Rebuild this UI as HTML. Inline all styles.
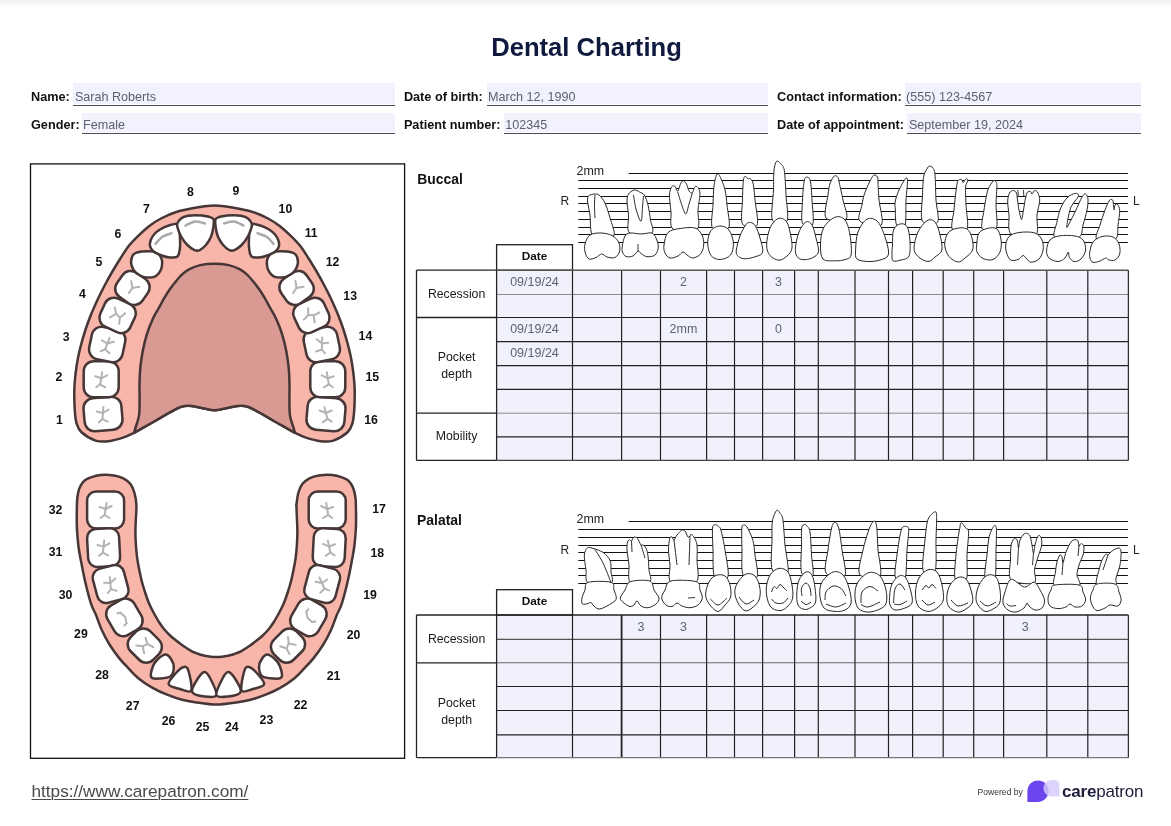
<!DOCTYPE html>
<html><head><meta charset="utf-8"><title>Dental Charting</title>
<style>
*{margin:0;padding:0;box-sizing:border-box}
html,body{width:1171px;height:826px;background:#fff;overflow:hidden}
body{position:relative;font-family:"Liberation Sans",Arial,Helvetica,sans-serif;color:#111}
.topbar{position:absolute;left:0;top:0;width:1171px;height:7px;background:linear-gradient(#efefef,#fff)}
h1{position:absolute;left:1px;top:31.7px;width:1171px;text-align:center;font-size:25.6px;line-height:30px;font-weight:bold;color:#101a3e}
.lab{position:absolute;font-weight:bold;font-size:12.7px;line-height:14px;color:#111;white-space:nowrap}
.val{position:absolute;font-size:12.6px;line-height:14px;color:#5d6070;white-space:nowrap}
.bg{position:absolute;background:#f1f2fd}
.ul{position:absolute;height:1px;background:#4a4c5c}
svg{position:absolute;left:0;top:0}
.tn{font:bold 12.3px "Liberation Sans",Arial,sans-serif;fill:#111;text-anchor:middle}
.sec{font:bold 13.9px "Liberation Sans",Arial,sans-serif;fill:#111}
.dh{font:bold 11.8px "Liberation Sans",Arial,sans-serif;fill:#111;text-anchor:middle}
.lb{font:12.3px "Liberation Sans",Arial,sans-serif;fill:#1a1a1a;text-anchor:middle}
.cv{font:12.5px "Liberation Sans",Arial,sans-serif;fill:#60636f;text-anchor:middle}
.mm{font:12.4px "Liberation Sans",Arial,sans-serif;fill:#222}
.rl{font:12px "Liberation Sans",Arial,sans-serif;fill:#222}
.tt{fill:#fff;stroke:#2a2a2a;stroke-width:1;stroke-linejoin:round}
.ti{fill:none;stroke:#2a2a2a;stroke-width:1}
.url{position:absolute;left:31.5px;top:781px;font-size:17.2px;line-height:20px;color:#4a4a4a;text-decoration:underline;text-decoration-thickness:1px;text-underline-offset:2px}
.pw{position:absolute;left:977.5px;top:787px;font-size:8.6px;line-height:10px;color:#333}
.cp{position:absolute;left:1062px;top:781px;font-size:17px;line-height:22px;color:#1b1d3a;letter-spacing:-0.2px}
.cp b{font-weight:bold}
</style></head><body>
<div class="topbar"></div>
<h1>Dental Charting</h1>
<div class="bg" style="left:73.4px;top:83.4px;width:322.0px;height:20.6px"></div><div class="ul" style="left:73.4px;top:105.0px;width:322.0px"></div><div class="lab" style="left:31.0px;top:89.8px">Name:</div><div class="val" style="left:74.9px;top:89.8px">Sarah Roberts</div>
<div class="bg" style="left:486.5px;top:83.4px;width:281.3px;height:20.6px"></div><div class="ul" style="left:486.5px;top:105.0px;width:281.3px"></div><div class="lab" style="left:403.9px;top:89.8px">Date of birth:</div><div class="val" style="left:488.0px;top:89.8px">March 12, 1990</div>
<div class="bg" style="left:904.6px;top:83.4px;width:236.1px;height:20.6px"></div><div class="ul" style="left:904.6px;top:105.0px;width:236.1px"></div><div class="lab" style="left:777.0px;top:89.8px">Contact information:</div><div class="val" style="left:906.1px;top:89.8px">(555) 123-4567</div>
<div class="bg" style="left:81.5px;top:112.5px;width:313.9px;height:19.9px"></div><div class="ul" style="left:81.5px;top:133.2px;width:313.9px"></div><div class="lab" style="left:31.0px;top:117.7px">Gender:</div><div class="val" style="left:83.0px;top:117.7px">Female</div>
<div class="bg" style="left:503.7px;top:112.5px;width:264.1px;height:19.9px"></div><div class="ul" style="left:503.7px;top:133.2px;width:264.1px"></div><div class="lab" style="left:403.9px;top:117.7px">Patient number:</div><div class="val" style="left:505.2px;top:117.7px">102345</div>
<div class="bg" style="left:907.4px;top:112.5px;width:233.3px;height:19.9px"></div><div class="ul" style="left:907.4px;top:133.2px;width:233.3px"></div><div class="lab" style="left:777.0px;top:117.7px">Date of appointment:</div><div class="val" style="left:908.9px;top:117.7px">September 19, 2024</div>

<svg width="1171" height="826" viewBox="0 0 1171 826">
<rect x="30.5" y="163.9" width="374.1" height="594.4" fill="none" stroke="#111" stroke-width="1.3"/>
<path d="M134,432.9C132.3,433.6 128.1,436 123.8,437.4C119.5,438.8 113.1,440.7 108.4,441.2C103.7,441.7 100.1,442.1 95.6,440.6C91.1,439.1 84.7,435.2 81.5,432.3C78.3,429.4 77.6,426.2 76.5,423C75.4,419.8 75.3,416.5 75,413C74.7,409.5 74.5,405.8 74.4,402C74.3,398.2 74.2,394 74.3,390C74.4,386 74.7,382 75.1,378C75.5,374 76,370 76.6,366C77.2,362 77.9,358 78.8,354C79.7,350 80.7,346 81.8,342C82.9,338 84.1,334 85.4,330C86.7,326 88.2,322 89.7,318C91.2,314 92.9,310 94.7,306C96.5,302 98.3,298 100.3,294C102.3,290 104.3,286 106.5,282C108.7,278 110.9,274 113.3,270C115.7,266 118.1,262 120.7,258C123.3,254 125.8,249.7 128.7,246C131.6,242.3 134.7,239.3 138.1,236C141.5,232.7 145.2,229.1 149,226.2C152.8,223.3 156.4,220.9 161,218.5C165.6,216.1 170.1,213.9 176.3,212C182.5,210.1 191.7,208.4 198.1,207.3C204.5,206.2 209,205.6 214.5,205.6C220,205.6 224.5,206.2 230.9,207.3C237.3,208.4 246.5,210.1 252.7,212C258.9,213.9 263.4,216.1 268,218.5C272.6,220.9 276.2,223.3 280,226.2C283.8,229.1 287.5,232.7 290.9,236C294.3,239.3 297.4,242.3 300.3,246C303.2,249.7 305.7,254 308.3,258C310.9,262 313.3,266 315.7,270C318.1,274 320.3,278 322.5,282C324.7,286 326.7,290 328.7,294C330.7,298 332.5,302 334.3,306C336.1,310 337.8,314 339.3,318C340.9,322 342.3,326 343.6,330C344.9,334 346.1,338 347.2,342C348.3,346 349.3,350 350.2,354C351.1,358 351.8,362 352.4,366C353,370 353.5,374 353.9,378C354.3,382 354.6,386 354.7,390C354.8,394 354.7,398.2 354.6,402C354.5,405.8 354.4,409.5 354,413C353.6,416.5 353.6,419.8 352.5,423C351.4,426.2 350.7,429.4 347.5,432.3C344.3,435.2 337.9,439.1 333.4,440.6C328.9,442.1 325.3,441.7 320.6,441.2C315.9,440.7 309.5,438.8 305.2,437.4C300.9,436 296.7,433.6 295,432.9L295,432.9C291.8,431.1 281.7,425.4 275.7,422C269.7,418.6 263.8,414.9 259.1,412.4C254.4,409.8 251.2,407.8 247.6,406.7C244,405.6 241.2,405.7 237.3,406C233.5,406.3 228.3,407.9 224.5,408.6C220.7,409.3 217.8,410.2 214.5,410.2C211.2,410.2 208.3,409.3 204.5,408.6C200.7,407.9 195.5,406.3 191.7,406C187.8,405.7 185,405.6 181.4,406.7C177.8,407.8 174.6,409.8 169.9,412.4C165.2,414.9 159.3,418.6 153.3,422C147.3,425.4 137.2,431.1 134,432.9Z" fill="#f8b5aa" stroke="#463636" stroke-width="2.5" stroke-linejoin="round"/>
<path d="M134,432.9C134.2,432.1 134.5,431.3 135.3,428.4C136.1,425.5 138.3,420.1 139,415.6C139.7,411.2 139.5,406.9 139.6,401.7C139.7,396.5 139.4,390.3 139.5,384.7C139.6,379.1 139.8,373.4 140.3,367.8C140.9,362.2 141.7,356.5 142.8,350.8C143.9,345.1 145.3,339.3 147,333.9C148.7,328.5 151.1,322.7 153,318.5C154.9,314.3 156.6,312 158.5,308.5C160.4,305 162.6,300.9 164.5,297.6C166.4,294.4 168.1,291.7 170,289C171.9,286.3 173.9,283.7 176,281.2C178.1,278.7 180.5,275.9 182.7,273.9C184.9,271.9 186.5,270.6 189.4,269.1C192.3,267.6 196.1,266 200.3,265.1C204.5,264.2 209.8,263.8 214.5,263.8C219.2,263.8 224.5,264.2 228.7,265.1C232.9,266 236.7,267.6 239.6,269.1C242.5,270.6 244.1,271.9 246.3,273.9C248.5,275.9 250.9,278.7 253,281.2C255.1,283.7 257.1,286.3 259,289C260.9,291.7 262.6,294.4 264.5,297.6C266.4,300.9 268.6,305 270.5,308.5C272.4,312 274.1,314.3 276,318.5C277.9,322.7 280.3,328.5 282,333.9C283.7,339.3 285.1,345.1 286.2,350.8C287.3,356.5 288.1,362.2 288.7,367.8C289.2,373.4 289.4,379.1 289.5,384.7C289.6,390.3 289.3,396.5 289.4,401.7C289.5,406.9 289.3,411.2 290,415.6C290.7,420.1 292.9,425.5 293.7,428.4C294.5,431.3 294.8,432.1 295,432.9L295,432.9C291.8,431.1 281.7,425.4 275.7,422C269.7,418.6 263.8,414.9 259.1,412.4C254.4,409.8 251.2,407.8 247.6,406.7C244,405.6 241.2,405.7 237.3,406C233.5,406.3 228.3,407.9 224.5,408.6C220.7,409.3 217.8,410.2 214.5,410.2C211.2,410.2 208.3,409.3 204.5,408.6C200.7,407.9 195.5,406.3 191.7,406C187.8,405.7 185,405.6 181.4,406.7C177.8,407.8 174.6,409.8 169.9,412.4C165.2,414.9 159.3,418.6 153.3,422C147.3,425.4 137.2,431.1 134,432.9Z" fill="#d99a94" stroke="#463636" stroke-width="2.5" stroke-linejoin="round"/>
<rect x="84" y="397.5" width="38" height="33" rx="10" transform="rotate(-5 103 414)" fill="#fff" stroke="#463636" stroke-width="2.5"/>
<g transform="translate(103 414) rotate(-5)" fill="none" stroke="#b3b3b3" stroke-width="2" stroke-linecap="round" stroke-linejoin="round"><polyline points="-6,-3 0,-1 6,-4"/><polyline points="0,-1 -1,5 -5,8"/><polyline points="-1,5 4,8"/><polyline points="0,-1 1,-7"/></g>
<rect x="83.7" y="361.3" width="35" height="36" rx="10" transform="rotate(0 101.2 379.3)" fill="#fff" stroke="#463636" stroke-width="2.5"/>
<g transform="translate(101.2 379.3) rotate(0)" fill="none" stroke="#b3b3b3" stroke-width="2" stroke-linecap="round" stroke-linejoin="round"><polyline points="-6,-3 0,-1 6,-4"/><polyline points="0,-1 -1,5 -5,8"/><polyline points="-1,5 4,8"/><polyline points="0,-1 1,-7"/></g>
<rect x="90.2" y="328" width="34" height="33" rx="10" transform="rotate(12 107.2 344.5)" fill="#fff" stroke="#463636" stroke-width="2.5"/>
<g transform="translate(107.2 344.5) rotate(12)" fill="none" stroke="#b3b3b3" stroke-width="2" stroke-linecap="round" stroke-linejoin="round"><polyline points="-6,-3 0,-1 6,-4"/><polyline points="0,-1 -1,5 -5,8"/><polyline points="-1,5 4,8"/><polyline points="0,-1 1,-7"/></g>
<rect x="101.1" y="299.9" width="33" height="31" rx="10" transform="rotate(25 117.6 315.4)" fill="#fff" stroke="#463636" stroke-width="2.5"/>
<g transform="translate(117.6 315.4) rotate(25)" fill="none" stroke="#b3b3b3" stroke-width="2" stroke-linecap="round" stroke-linejoin="round"><polyline points="-6,-6 -2,-1 -6,5"/><polyline points="-2,-1 3,1"/><polyline points="6,-5 3,1 5,7"/></g>
<rect x="116.9" y="273.2" width="31" height="29.5" rx="10" transform="rotate(35 132.4 288)" fill="#fff" stroke="#463636" stroke-width="2.5"/>
<g transform="translate(132.4 288) rotate(35)" fill="none" stroke="#b3b3b3" stroke-width="2" stroke-linecap="round" stroke-linejoin="round"><polyline points="-5,-5 0,0 5,-5"/><polyline points="0,0 0,6"/></g>
<path d="M132.7,255.3C133.6,253.8 135,253.2 136.5,252.6C138,252 139.8,251.7 141.9,251.5C144,251.3 146.7,251.1 149,251.2C151.3,251.3 153.9,251.6 155.7,252.3C157.5,253 158.7,253.9 159.7,255.2C160.7,256.5 161.5,258.4 161.9,260C162.3,261.6 162.1,263.5 162,265C161.9,266.5 161.7,267.7 161.1,269.2C160.5,270.7 159.5,272.5 158.3,273.8C157.2,275.1 155.8,276.3 154.2,276.9C152.6,277.5 150.5,277.6 148.7,277.6C146.9,277.6 145.2,277.4 143.4,276.9C141.7,276.3 139.7,275.3 138.2,274.3C136.7,273.3 135.3,272.1 134.2,270.7C133.1,269.3 132.3,267.5 131.8,266C131.3,264.5 130.9,263.3 131.1,261.5C131.2,259.7 131.8,256.8 132.7,255.3Z" fill="#fff" stroke="#463636" stroke-width="2.5" stroke-linejoin="round"/>
<path d="M178.1,224C176.3,223.1 171.8,224.6 168.8,225.5C165.8,226.4 162.5,228 160,229.5C157.5,231 155.5,232.8 154,234.5C152.5,236.2 151.5,238.1 150.8,240C150.1,241.9 149.6,244.2 150,246C150.4,247.8 151.1,249.4 153,251C154.9,252.6 158.9,254.4 161.7,255.5C164.5,256.6 167.4,257.3 170,257.5C172.6,257.7 175.9,257.9 177.5,256.5C179.1,255.1 179.4,251.6 179.8,249C180.2,246.4 180.2,243.9 180.1,240.9C180,237.9 179.8,233.8 179.5,231C179.2,228.2 179.9,224.9 178.1,224Z" fill="#fff" stroke="#463636" stroke-width="2.5" stroke-linejoin="round"/>
<path d="M177.2,224C177.7,222.1 179.5,219.7 181.3,218.3C183.1,216.9 185.6,216.3 188,215.8C190.4,215.3 193.2,215.2 195.6,215.2C198,215.2 200.3,215.3 202.5,215.6C204.7,215.9 207.1,216.2 208.9,216.8C210.7,217.4 212.8,217.5 213.5,219.3C214.2,221.1 213.7,224.6 213.3,227.5C212.9,230.4 212.2,233.9 211,236.8C209.8,239.7 207.8,242.8 205.9,245C204,247.2 201.6,249.2 199.7,250.1C197.8,250.9 196.6,250.9 194.6,250.1C192.6,249.2 189.6,247.2 187.4,245C185.2,242.8 182.8,239.4 181.3,236.8C179.8,234.2 178.9,231.7 178.2,229.6C177.5,227.5 176.7,225.9 177.2,224Z" fill="#fff" stroke="#463636" stroke-width="2.5" stroke-linejoin="round"/>
<path d="M155.5,244C156.6,242.8 159.3,238.8 162,237C164.7,235.2 169.9,233.8 171.5,233.2" fill="none" stroke="#aaa" stroke-width="2.5" stroke-linecap="round"/>
<path d="M185.5,225.6C187.1,224.9 191.8,221.9 195,221.5C198.2,221.1 203.3,223.1 205,223.4" fill="none" stroke="#aaa" stroke-width="2.5" stroke-linecap="round"/>
<rect x="307" y="397.5" width="38" height="33" rx="10" transform="rotate(5 326 414)" fill="#fff" stroke="#463636" stroke-width="2.5"/>
<g transform="translate(326 414) scale(-1 1) rotate(5)" fill="none" stroke="#b3b3b3" stroke-width="2" stroke-linecap="round" stroke-linejoin="round"><polyline points="-6,-3 0,-1 6,-4"/><polyline points="0,-1 -1,5 -5,8"/><polyline points="-1,5 4,8"/><polyline points="0,-1 1,-7"/></g>
<rect x="310.3" y="361.3" width="35" height="36" rx="10" transform="rotate(0 327.8 379.3)" fill="#fff" stroke="#463636" stroke-width="2.5"/>
<g transform="translate(327.8 379.3) scale(-1 1) rotate(0)" fill="none" stroke="#b3b3b3" stroke-width="2" stroke-linecap="round" stroke-linejoin="round"><polyline points="-6,-3 0,-1 6,-4"/><polyline points="0,-1 -1,5 -5,8"/><polyline points="-1,5 4,8"/><polyline points="0,-1 1,-7"/></g>
<rect x="304.8" y="328" width="34" height="33" rx="10" transform="rotate(-12 321.8 344.5)" fill="#fff" stroke="#463636" stroke-width="2.5"/>
<g transform="translate(321.8 344.5) scale(-1 1) rotate(-12)" fill="none" stroke="#b3b3b3" stroke-width="2" stroke-linecap="round" stroke-linejoin="round"><polyline points="-6,-3 0,-1 6,-4"/><polyline points="0,-1 -1,5 -5,8"/><polyline points="-1,5 4,8"/><polyline points="0,-1 1,-7"/></g>
<rect x="294.9" y="299.9" width="33" height="31" rx="10" transform="rotate(-25 311.4 315.4)" fill="#fff" stroke="#463636" stroke-width="2.5"/>
<g transform="translate(311.4 315.4) scale(-1 1) rotate(-25)" fill="none" stroke="#b3b3b3" stroke-width="2" stroke-linecap="round" stroke-linejoin="round"><polyline points="-6,-6 -2,-1 -6,5"/><polyline points="-2,-1 3,1"/><polyline points="6,-5 3,1 5,7"/></g>
<rect x="281.1" y="273.2" width="31" height="29.5" rx="10" transform="rotate(-35 296.6 288)" fill="#fff" stroke="#463636" stroke-width="2.5"/>
<g transform="translate(296.6 288) scale(-1 1) rotate(-35)" fill="none" stroke="#b3b3b3" stroke-width="2" stroke-linecap="round" stroke-linejoin="round"><polyline points="-5,-5 0,0 5,-5"/><polyline points="0,0 0,6"/></g>
<path d="M296.3,255.3C295.4,253.8 294,253.2 292.5,252.6C291,252 289.2,251.7 287.1,251.5C285,251.3 282.3,251.1 280,251.2C277.7,251.3 275.1,251.6 273.3,252.3C271.5,253 270.3,253.9 269.3,255.2C268.3,256.5 267.5,258.4 267.1,260C266.7,261.6 266.9,263.5 267,265C267.1,266.5 267.3,267.7 267.9,269.2C268.5,270.7 269.5,272.5 270.7,273.8C271.9,275.1 273.2,276.3 274.8,276.9C276.4,277.5 278.5,277.6 280.3,277.6C282.1,277.6 283.9,277.4 285.6,276.9C287.4,276.3 289.3,275.3 290.8,274.3C292.3,273.3 293.7,272.1 294.8,270.7C295.9,269.3 296.7,267.5 297.2,266C297.7,264.5 298,263.3 297.9,261.5C297.8,259.7 297.2,256.8 296.3,255.3Z" fill="#fff" stroke="#463636" stroke-width="2.5" stroke-linejoin="round"/>
<path d="M250.9,224C252.7,223.1 257.2,224.6 260.2,225.5C263.2,226.4 266.5,228 269,229.5C271.5,231 273.5,232.8 275,234.5C276.5,236.2 277.5,238.1 278.2,240C278.9,241.9 279.4,244.2 279,246C278.6,247.8 277.9,249.4 276,251C274.1,252.6 270.1,254.4 267.3,255.5C264.5,256.6 261.6,257.3 259,257.5C256.4,257.7 253.1,257.9 251.5,256.5C249.9,255.1 249.6,251.6 249.2,249C248.8,246.4 248.8,243.9 248.9,240.9C249,237.9 249.2,233.8 249.5,231C249.8,228.2 249.1,224.9 250.9,224Z" fill="#fff" stroke="#463636" stroke-width="2.5" stroke-linejoin="round"/>
<path d="M251.8,224C251.3,222.1 249.5,219.7 247.7,218.3C245.9,216.9 243.4,216.3 241,215.8C238.6,215.3 235.8,215.2 233.4,215.2C231,215.2 228.7,215.3 226.5,215.6C224.3,215.9 221.9,216.2 220.1,216.8C218.3,217.4 216.2,217.5 215.5,219.3C214.8,221.1 215.3,224.6 215.7,227.5C216.1,230.4 216.8,233.9 218,236.8C219.2,239.7 221.2,242.8 223.1,245C225,247.2 227.4,249.2 229.3,250.1C231.2,250.9 232.4,250.9 234.4,250.1C236.4,249.2 239.4,247.2 241.6,245C243.8,242.8 246.2,239.4 247.7,236.8C249.2,234.2 250.1,231.7 250.8,229.6C251.5,227.5 252.3,225.9 251.8,224Z" fill="#fff" stroke="#463636" stroke-width="2.5" stroke-linejoin="round"/>
<path d="M273.5,244C272.4,242.8 269.7,238.8 267,237C264.3,235.2 259.1,233.8 257.5,233.2" fill="none" stroke="#aaa" stroke-width="2.5" stroke-linecap="round"/>
<path d="M243.5,225.6C241.9,224.9 237.2,221.9 234,221.5C230.8,221.1 225.7,223.1 224,223.4" fill="none" stroke="#aaa" stroke-width="2.5" stroke-linecap="round"/>
<path d="M216.4,704.6C209.3,704.6 200.7,703 195,702.2C189.3,701.4 186.8,701 182.2,699.8C177.6,698.6 172.5,696.8 167.7,694.9C162.8,693 157.9,690.9 153.1,688.1C148.2,685.4 142.6,681.6 138.6,678.4C134.6,675.2 132.1,672.2 128.9,668.8C125.7,665.4 122.4,662.1 119.2,658.1C116,654.1 112.4,649.2 109.5,644.5C106.6,639.8 104,634.9 101.8,630C99.5,625.1 97.8,619.4 96,615C94.2,610.6 92.8,609.1 91,603.6C89.2,598.1 86.9,589.1 85.2,581.8C83.5,574.5 82,566.1 80.8,560C79.6,553.9 78.9,550.3 78.3,545C77.7,539.7 77.2,533.5 76.9,528C76.7,522.5 76.7,517 76.8,512C76.9,507.1 76.8,502.5 77.3,498.3C77.8,494.1 78.5,490.1 80,487C81.5,483.9 82.6,481.5 86,479.5C89.4,477.5 95.9,475.7 100.6,475C105.3,474.3 110.2,474.9 114,475.5C117.8,476.1 120.5,476.9 123.3,478.3C126,479.7 128.6,481.6 130.5,484C132.4,486.4 133.5,489.5 134.5,493C135.5,496.5 136.2,500.8 136.4,505C136.6,509.2 136.1,513.9 135.9,518.3C135.7,522.7 135.4,527.2 135.4,531.6C135.4,536 135.6,540.5 135.9,544.9C136.2,549.3 136.6,554 137.2,558.2C137.8,562.4 138.5,566.1 139.3,570C140.1,573.9 140.9,578 141.9,581.8C142.9,585.6 144.1,589.4 145.3,593C146.5,596.6 147.7,600.3 149.1,603.6C150.5,606.9 152.1,609.9 153.8,613C155.5,616.1 157.5,619.7 159.3,622.5C161.1,625.3 162.9,627.8 164.8,630C166.7,632.2 168.5,634.1 170.6,636C172.7,637.9 175.1,639.8 177.4,641.6C179.7,643.4 182.1,645.2 184.5,646.8C186.9,648.4 189.6,650.1 191.9,651.3C194.2,652.5 196.3,653.2 198.5,654C200.7,654.8 203,655.3 205,655.8C207,656.2 208.8,656.5 210.7,656.7C212.6,656.9 214.5,657 216.4,657C218.3,657 220.2,656.9 222.1,656.7C224,656.5 225.8,656.2 227.8,655.8C229.8,655.3 232.1,654.8 234.3,654C236.5,653.2 238.6,652.5 240.9,651.3C243.2,650.1 245.9,648.4 248.3,646.8C250.7,645.2 253.1,643.4 255.4,641.6C257.7,639.8 260.1,637.9 262.2,636C264.3,634.1 266.1,632.2 268,630C269.9,627.8 271.7,625.3 273.5,622.5C275.3,619.7 277.3,616.1 279,613C280.7,609.9 282.3,606.9 283.7,603.6C285.1,600.3 286.3,596.6 287.5,593C288.7,589.4 289.9,585.6 290.9,581.8C291.9,578 292.7,573.9 293.5,570C294.3,566.1 295,562.4 295.6,558.2C296.2,554 296.6,549.3 296.9,544.9C297.2,540.5 297.4,536 297.4,531.6C297.4,527.2 297.1,522.7 296.9,518.3C296.7,513.9 296.5,507.2 296.4,505C296.3,502.8 296.1,507 296.4,505C296.7,503 297.3,496.5 298.3,493C299.3,489.5 300.4,486.4 302.3,484C304.2,481.6 306.8,479.7 309.5,478.3C312.2,476.9 315,476.1 318.8,475.5C322.6,474.9 327.5,474.3 332.2,475C336.9,475.7 343.4,477.5 346.8,479.5C350.2,481.5 351.4,483.9 352.8,487C354.2,490.1 355,494.1 355.5,498.3C356,502.5 355.9,507.1 356,512C356.1,517 356.1,522.5 355.9,528C355.6,533.5 355.1,539.7 354.5,545C353.9,550.3 353.1,553.9 352,560C350.9,566.1 349.3,574.5 347.6,581.8C345.9,589.1 343.6,598.1 341.8,603.6C340,609.1 338.6,610.6 336.8,615C335,619.4 333.2,625.1 331,630C328.8,634.9 326.2,639.8 323.3,644.5C320.4,649.2 316.8,654.1 313.6,658.1C310.4,662.1 307.1,665.4 303.9,668.8C300.7,672.2 298.2,675.2 294.2,678.4C290.2,681.6 284.6,685.4 279.7,688.1C274.9,690.9 270,693 265.1,694.9C260.2,696.8 255.2,698.6 250.6,699.8C246.1,701 243.5,701.4 237.8,702.2C232.1,703 223.5,704.6 216.4,704.6Z" fill="#f8b5aa" stroke="#463636" stroke-width="2.5" stroke-linejoin="round"/>
<rect x="87.1" y="491.5" width="37" height="37" rx="9" transform="rotate(0 105.6 510)" fill="#fff" stroke="#463636" stroke-width="2.5"/>
<g transform="translate(105.6 510) rotate(0)" fill="none" stroke="#b3b3b3" stroke-width="2" stroke-linecap="round" stroke-linejoin="round"><polyline points="-6,-3 0,-1 6,-4"/><polyline points="0,-1 -1,5 -5,8"/><polyline points="-1,5 4,8"/><polyline points="0,-1 1,-7"/></g>
<rect x="87.6" y="528.6" width="32" height="38" rx="9" transform="rotate(-3 103.6 547.6)" fill="#fff" stroke="#463636" stroke-width="2.5"/>
<g transform="translate(103.6 547.6) rotate(-3)" fill="none" stroke="#b3b3b3" stroke-width="2" stroke-linecap="round" stroke-linejoin="round"><polyline points="-6,-3 0,-1 6,-4"/><polyline points="0,-1 -1,5 -5,8"/><polyline points="-1,5 4,8"/><polyline points="0,-1 1,-7"/></g>
<rect x="94.6" y="566.5" width="32" height="35" rx="9" transform="rotate(-15 110.6 584)" fill="#fff" stroke="#463636" stroke-width="2.5"/>
<g transform="translate(110.6 584) rotate(-15)" fill="none" stroke="#b3b3b3" stroke-width="2" stroke-linecap="round" stroke-linejoin="round"><polyline points="-6,-3 0,-1 6,-4"/><polyline points="0,-1 -1,5 -5,8"/><polyline points="-1,5 4,8"/><polyline points="0,-1 1,-7"/></g>
<rect x="108.9" y="600.4" width="31" height="34" rx="10" transform="rotate(-30 124.4 617.4)" fill="#fff" stroke="#463636" stroke-width="2.5"/>
<g transform="translate(124.4 617.4) rotate(-30)" fill="none" stroke="#b3b3b3" stroke-width="2" stroke-linecap="round" stroke-linejoin="round"><polyline points="-1,-6 1,0 -1,6"/><polyline points="-4,-7 -1,-6"/><polyline points="-4,7 -1,6"/></g>
<rect x="130.8" y="629.6" width="28" height="32" rx="10" transform="rotate(-45 144.8 645.6)" fill="#fff" stroke="#463636" stroke-width="2.5"/>
<g transform="translate(144.8 645.6) rotate(-45)" fill="none" stroke="#b3b3b3" stroke-width="2" stroke-linecap="round" stroke-linejoin="round"><polyline points="-6,-6 -2,-1 -6,5"/><polyline points="-2,-1 3,1"/><polyline points="6,-5 3,1 5,7"/></g>
<path d="M151.2,677.1C150,675 151.9,669 153,666C154.1,663 155.9,660.9 158,659C160.1,657.1 163.4,654.6 165.6,654.6C167.8,654.6 169.6,656.9 171,659C172.4,661.1 173.9,664.1 173.8,667C173.8,669.9 173,674.2 170.7,676.1C168.4,678 163.2,678.3 160,678.5C156.8,678.7 152.4,679.2 151.2,677.1Z" fill="#fff" stroke="#463636" stroke-width="2.5" stroke-linejoin="round"/>
<path d="M168.7,684.3C168,681.6 173.4,675.9 176,673C178.6,670.1 181.9,667.2 184,666.9C186.1,666.6 187.3,667.1 188.5,671C189.7,674.9 192.6,687.5 191.2,690.5C189.8,693.5 183.8,690 180,689C176.2,688 169.4,687 168.7,684.3Z" fill="#fff" stroke="#463636" stroke-width="2.5" stroke-linejoin="round"/>
<path d="M192.2,692C191,689.1 195.4,682.3 197.5,679C199.6,675.7 202.4,672.2 204.5,672C206.6,671.8 208,674.2 210,678C212,681.8 217.3,691.9 216.4,695C215.5,698.1 208.5,697 204.5,696.5C200.5,696 193.4,694.9 192.2,692Z" fill="#fff" stroke="#463636" stroke-width="2.5" stroke-linejoin="round"/>
<rect x="308.7" y="491.5" width="37" height="37" rx="9" transform="rotate(0 327.2 510)" fill="#fff" stroke="#463636" stroke-width="2.5"/>
<g transform="translate(327.2 510) scale(-1 1) rotate(0)" fill="none" stroke="#b3b3b3" stroke-width="2" stroke-linecap="round" stroke-linejoin="round"><polyline points="-6,-3 0,-1 6,-4"/><polyline points="0,-1 -1,5 -5,8"/><polyline points="-1,5 4,8"/><polyline points="0,-1 1,-7"/></g>
<rect x="313.2" y="528.6" width="32" height="38" rx="9" transform="rotate(3 329.2 547.6)" fill="#fff" stroke="#463636" stroke-width="2.5"/>
<g transform="translate(329.2 547.6) scale(-1 1) rotate(3)" fill="none" stroke="#b3b3b3" stroke-width="2" stroke-linecap="round" stroke-linejoin="round"><polyline points="-6,-3 0,-1 6,-4"/><polyline points="0,-1 -1,5 -5,8"/><polyline points="-1,5 4,8"/><polyline points="0,-1 1,-7"/></g>
<rect x="306.2" y="566.5" width="32" height="35" rx="9" transform="rotate(15 322.2 584)" fill="#fff" stroke="#463636" stroke-width="2.5"/>
<g transform="translate(322.2 584) scale(-1 1) rotate(15)" fill="none" stroke="#b3b3b3" stroke-width="2" stroke-linecap="round" stroke-linejoin="round"><polyline points="-6,-3 0,-1 6,-4"/><polyline points="0,-1 -1,5 -5,8"/><polyline points="-1,5 4,8"/><polyline points="0,-1 1,-7"/></g>
<rect x="292.9" y="600.4" width="31" height="34" rx="10" transform="rotate(30 308.4 617.4)" fill="#fff" stroke="#463636" stroke-width="2.5"/>
<g transform="translate(308.4 617.4) scale(-1 1) rotate(30)" fill="none" stroke="#b3b3b3" stroke-width="2" stroke-linecap="round" stroke-linejoin="round"><polyline points="-1,-6 1,0 -1,6"/><polyline points="-4,-7 -1,-6"/><polyline points="-4,7 -1,6"/></g>
<rect x="274" y="629.6" width="28" height="32" rx="10" transform="rotate(45 288 645.6)" fill="#fff" stroke="#463636" stroke-width="2.5"/>
<g transform="translate(288 645.6) scale(-1 1) rotate(45)" fill="none" stroke="#b3b3b3" stroke-width="2" stroke-linecap="round" stroke-linejoin="round"><polyline points="-6,-6 -2,-1 -6,5"/><polyline points="-2,-1 3,1"/><polyline points="6,-5 3,1 5,7"/></g>
<path d="M281.6,677.1C282.8,675 280.9,669 279.8,666C278.7,663 276.9,660.9 274.8,659C272.7,657.1 269.4,654.6 267.2,654.6C265,654.6 263.2,656.9 261.8,659C260.4,661.1 258.9,664.1 259,667C259.1,669.9 259.8,674.2 262.1,676.1C264.4,678 269.6,678.3 272.8,678.5C276.1,678.7 280.4,679.2 281.6,677.1Z" fill="#fff" stroke="#463636" stroke-width="2.5" stroke-linejoin="round"/>
<path d="M264.1,684.3C264.8,681.6 259.4,675.9 256.8,673C254.2,670.1 250.9,667.2 248.8,666.9C246.7,666.6 245.5,667.1 244.3,671C243.1,674.9 240.2,687.5 241.6,690.5C243,693.5 249.1,690 252.8,689C256.6,688 263.4,687 264.1,684.3Z" fill="#fff" stroke="#463636" stroke-width="2.5" stroke-linejoin="round"/>
<path d="M240.6,692C241.8,689.1 237.4,682.3 235.3,679C233.2,675.7 230.4,672.2 228.3,672C226.2,671.8 224.8,674.2 222.8,678C220.8,681.8 215.5,691.9 216.4,695C217.3,698.1 224.3,697 228.3,696.5C232.3,696 239.4,694.9 240.6,692Z" fill="#fff" stroke="#463636" stroke-width="2.5" stroke-linejoin="round"/>
<text x="59.4" y="424" class="tn">1</text>
<text x="59" y="381" class="tn">2</text>
<text x="66.2" y="340.6" class="tn">3</text>
<text x="82.3" y="298.4" class="tn">4</text>
<text x="99" y="266.2" class="tn">5</text>
<text x="117.8" y="238" class="tn">6</text>
<text x="146.3" y="213.4" class="tn">7</text>
<text x="190.4" y="196.2" class="tn">8</text>
<text x="236" y="195.4" class="tn">9</text>
<text x="285.4" y="213.4" class="tn">10</text>
<text x="311.2" y="237.1" class="tn">11</text>
<text x="332.6" y="266.1" class="tn">12</text>
<text x="350.2" y="299.9" class="tn">13</text>
<text x="365.4" y="340.3" class="tn">14</text>
<text x="372.3" y="381.2" class="tn">15</text>
<text x="371.1" y="423.7" class="tn">16</text>
<text x="379" y="513" class="tn">17</text>
<text x="377.3" y="556.6" class="tn">18</text>
<text x="370" y="599.4" class="tn">19</text>
<text x="353.6" y="638.9" class="tn">20</text>
<text x="333.6" y="679.9" class="tn">21</text>
<text x="300.5" y="708.9" class="tn">22</text>
<text x="266.4" y="724.4" class="tn">23</text>
<text x="231.8" y="731.1" class="tn">24</text>
<text x="202.6" y="731" class="tn">25</text>
<text x="168.6" y="725.2" class="tn">26</text>
<text x="132.7" y="709.7" class="tn">27</text>
<text x="102.1" y="678.9" class="tn">28</text>
<text x="80.9" y="638" class="tn">29</text>
<text x="65.5" y="599.3" class="tn">30</text>
<text x="55.5" y="555.7" class="tn">31</text>
<text x="55.5" y="513.9" class="tn">32</text>
<text x="417.3" y="184.3" class="sec">Buccal</text>
<line x1="628.7" y1="173.5" x2="1127.9" y2="173.5" stroke="#111" stroke-width="1.15"/>
<line x1="578.3" y1="180.5" x2="1127.9" y2="180.5" stroke="#111" stroke-width="1.15"/>
<line x1="578.3" y1="188.5" x2="1127.9" y2="188.5" stroke="#111" stroke-width="1.15"/>
<line x1="578.3" y1="196.5" x2="1127.9" y2="196.5" stroke="#111" stroke-width="1.15"/>
<line x1="578.3" y1="203.5" x2="1127.9" y2="203.5" stroke="#111" stroke-width="1.15"/>
<line x1="578.3" y1="211.5" x2="1127.9" y2="211.5" stroke="#111" stroke-width="1.15"/>
<line x1="578.3" y1="219.5" x2="1127.9" y2="219.5" stroke="#111" stroke-width="1.15"/>
<line x1="578.3" y1="227.5" x2="1127.9" y2="227.5" stroke="#111" stroke-width="1.15"/>
<line x1="578.3" y1="234.5" x2="1127.9" y2="234.5" stroke="#111" stroke-width="1.15"/>
<line x1="578.3" y1="242.5" x2="1127.9" y2="242.5" stroke="#111" stroke-width="1.15"/>
<text x="576.5" y="174.6" class="mm">2mm</text>
<text x="560.5" y="205.3" class="rl">R</text>
<text x="1133" y="205.3" class="rl">L</text>
<path d="M593,236C589.5,232.8 590.8,220.2 590,215C589.2,209.8 587.7,203.8 587.5,201C587.3,198.2 587.8,197 588.5,196C589.2,195 591,194.8 592,194.5C593,194.2 594,193.9 595,194C596,194.1 597.5,193.7 599,195C600.5,196.3 603.4,199.6 605,203C606.6,206.4 608.7,213.1 610,218C611.3,222.9 616.1,233.3 613.6,236C611.1,238.7 596.5,239.2 593,236Z" class="tt"/>
<path d="M585,244C585.8,241 587.3,236.8 590,235C592.7,233.2 597.3,232.9 601,233C604.7,233.1 609.1,234 612,235.5C614.9,237 617.2,239.4 618.5,242C619.8,244.6 620.3,248.4 619.7,251C619.1,253.6 617.1,256.5 615,257.5C612.9,258.5 609.2,257.6 607,257C604.8,256.4 603.5,253.9 601.7,254C599.9,254.1 598.1,256.7 596,257.5C593.9,258.3 590.8,259.8 589,259C587.2,258.2 586,255.5 585.3,253C584.6,250.5 584.2,247 585,244Z" class="tt"/>
<path d="M595,195C594.9,196.7 594.5,201.2 594.5,205C594.5,208.8 594.9,215.8 595,218" class="ti"/>
<path d="M629.7,233C626.2,230.3 628.9,219.8 628.5,215C628.1,210.2 627,204.2 627,201C627,197.8 627.4,195.7 628.5,194C629.6,192.3 632.6,190.3 634.3,190C635.9,189.7 638,191.2 639.5,192C641,192.8 643,193.1 644.3,195C645.6,196.9 647.1,201.2 648,205C648.9,208.8 649.9,215.8 650.5,220C651.1,224.2 654.8,231.1 651.7,233C648.6,234.9 633.2,235.7 629.7,233Z" class="tt"/>
<path d="M622.3,246C622.7,243.3 623.7,238.2 625,236C626.3,233.8 627.3,233.3 630,233C632.7,232.7 637.4,234 641,234C644.6,234 649.2,232.3 651.7,233C654.2,233.7 654.9,235.7 656,238C657.1,240.3 658.5,244.2 658.3,247C658.1,249.8 656.9,253.4 655,255C653.1,256.6 649.3,256.9 647,256.7C644.7,256.4 642.5,254.4 641,253.5C639.5,252.6 639.3,250.6 638,251C636.7,251.4 635,255.1 633,256C631,256.9 627.8,257.2 626,256.5C624.2,255.8 623.1,253.8 622.5,252C621.9,250.2 621.9,248.7 622.3,246Z" class="tt"/>
<path d="M633.5,195C633.9,197.3 634.8,204.6 636,209C637.2,213.4 639.9,221.6 641,221.3C642.1,221 642.1,211.2 642.5,207C642.9,202.8 643.3,197.8 643.5,196" class="ti"/>
<path d="M638,251C638,249.8 638,245.2 638,244" class="ti"/>
<path d="M673,229C669.1,226.4 671.5,217.1 671,212C670.5,206.9 669.4,198.8 669.5,195C669.6,191.2 670.9,188 671.7,186.7C672.5,185.4 674.1,185.8 675,186.5C675.9,187.2 676.9,191.7 677.7,191.3C678.5,190.9 679.7,185.6 680.5,184C681.3,182.4 682.1,180.7 683,180.7C683.9,180.7 685.6,182.5 686.5,184C687.4,185.5 688.1,189.7 689,191C689.9,192.3 691.5,193.2 692.3,192.7C693.1,192.2 693.8,188.4 694.5,187.5C695.2,186.6 696.2,185.9 697,186.7C697.8,187.5 699.9,189.5 700,193C700.1,196.5 698.5,204.6 698,210C697.5,215.4 700.8,226.2 697,229C693.2,231.8 676.9,231.6 673,229Z" class="tt"/>
<path d="M664,245C664.5,241.6 665.3,235.2 668,232.5C670.7,229.8 675.5,229.2 680,228.5C684.5,227.8 691.3,226.9 695,228C698.7,229.1 700.5,232.2 702,235C703.5,237.8 704,241.8 703.7,245C703.5,248.2 702.3,251.8 700.5,254C698.7,256.2 695.2,257.8 693,258C690.8,258.2 688.7,256 687,255C685.3,254 684.5,251.8 683,252C681.5,252.2 680.2,255 678,256C675.8,257 672.2,258.5 670,258C667.8,257.5 666,255.2 665,253C664,250.8 663.5,248.4 664,245Z" class="tt"/>
<path d="M677.7,192C678.3,194 680.2,200.3 681.5,204C682.8,207.7 684.5,214 685.7,214C687,214 687.9,207.5 689,204C690.1,200.5 691.8,194.8 692.3,193" class="ti"/>
<path d="M712.5,228C710.2,224.6 712.8,211.3 713,205C713.2,198.7 713.4,190.6 714,186C714.6,181.4 715.8,175.9 716.7,174.5C717.6,173.1 718.8,174.2 720,176.5C721.2,178.8 724,185.5 725,189.8C726,194.1 726.5,199.3 727,205C727.5,210.7 730.8,224.6 728.6,228C726.4,231.4 714.8,231.4 712.5,228Z" class="tt"/>
<path d="M707.7,243C707.7,238.8 709,233.3 711,230.5C713,227.7 717,226.1 720,226C723,225.9 726.8,227.2 729,230C731.2,232.8 733.1,238.8 733.4,243C733.6,247.2 732.7,252.2 730.5,255C728.3,257.8 723.2,259.4 720,259.5C716.8,259.6 713,258.2 711,255.5C709,252.8 707.7,247.2 707.7,243Z" class="tt"/>
<path d="M742.5,224C740.3,220.2 742.4,205.8 742.5,200C742.6,194.2 742.8,188.4 743,185C743.2,181.6 743.5,178.8 744,177.5C744.5,176.2 745.4,176.4 746,176.6C746.6,176.8 747.4,178.7 748,179C748.6,179.3 749.2,177.9 750,178.5C750.8,179.1 752.2,179.8 753,183C753.8,186.2 754.4,193.7 755,200C755.6,206.3 758.9,221.7 757,225.3C755.1,228.9 744.7,227.8 742.5,224Z" class="tt"/>
<path d="M736.2,251C736.5,247.6 738.4,240.4 740,236C741.6,231.6 744.2,226.8 746,224.5C747.8,222.2 748.9,222.2 750.5,222.5C752.1,222.8 753.9,223.4 755.5,226C757.1,228.6 758.8,233.7 760,238C761.2,242.3 763.4,248.9 762.7,252C762,255.1 759,255.4 756,256.5C753,257.6 747.9,258.8 745,258.8C742.1,258.8 740,257.8 738.5,256.5C737,255.2 736,254.4 736.2,251Z" class="tt"/>
<path d="M772.4,220C770.4,215.3 773.3,197.5 773.5,190C773.7,182.5 773.5,174.3 774,170C774.5,165.7 775.6,162.3 776.6,161.3C777.6,160.3 779.3,162.2 780.5,163.5C781.7,164.8 783.5,165.6 784.3,170.3C785.1,175 785.6,187.4 786,195C786.4,202.6 789,217.2 787,221C785,224.8 774.4,224.7 772.4,220Z" class="tt"/>
<path d="M766.6,245C766.6,240.4 768.1,232.4 770,228C771.9,223.6 775.3,219.8 778,218.6C780.7,217.4 784,218.8 786,221C788,223.2 789,227.5 790,232C791,236.5 792.5,244 792,248C791.5,252 789.2,254 787,256C784.8,258 781.8,260.3 779,260.2C776.2,260.1 772.1,258 770,255.5C767.9,253 766.6,249.6 766.6,245Z" class="tt"/>
<path d="M802.4,223C800.9,219.4 802.3,206.2 802.5,200C802.7,193.8 803.5,185.4 804,182C804.5,178.6 805,177.9 805.8,177.3C806.5,176.7 808.3,177.1 809,178C809.7,178.9 810.2,179.7 810.7,183C811.2,186.3 811.7,193.8 812,200C812.3,206.2 814.2,220.6 812.8,224C811.4,227.4 803.9,226.6 802.4,223Z" class="tt"/>
<path d="M795.4,248C795.7,243.9 797.2,236.3 799,232C800.8,227.7 803.8,223.2 806,222C808.2,220.8 810.3,222.3 812,225C813.7,227.7 814.9,233.5 816,238C817.1,242.5 819.1,248.7 818.4,252C817.7,255.3 814.6,256.7 812,258C809.4,259.3 805.5,259.9 803,259.7C800.5,259.4 798.3,258.4 797,256.5C795.7,254.6 795.1,252.1 795.4,248Z" class="tt"/>
<path d="M826,218C823.3,214.4 827.4,200.2 828,195C828.6,189.8 829.2,185.9 830.2,183C831.2,180.1 833.2,176.7 834.4,175.9C835.6,175.1 837.3,176.4 838,177.5C838.7,178.6 838.5,179.6 839.3,183C840,186.4 842,194.6 843,200C844,205.4 848.8,216.3 846.2,219C843.7,221.7 828.7,221.6 826,218Z" class="tt"/>
<path d="M820.5,245C820.6,239.8 821.1,232.6 823.5,228C825.9,223.4 831.4,218.5 835,217.2C838.6,215.9 842.5,217 845,220C847.5,223 849,229.2 850,235C851,240.8 851.9,250.9 851.1,255C850.3,259.1 847.7,258.5 845,259.5C842.3,260.5 838.7,260.9 835,260.8C831.3,260.7 825.4,261.6 823,259C820.6,256.4 820.4,250.2 820.5,245Z" class="tt"/>
<path d="M859.7,221C856.8,218 861.4,208.8 862,205C862.6,201.2 863,198.7 864,195.4C865,192.1 867.5,186 869,183C870.5,180 872.4,176.1 873.7,175.2C875,174.3 876.9,175.8 877.5,177C878.1,178.2 877.8,179.6 878,183C878.2,186.4 878.5,193.7 879,200C879.5,206.3 884.2,221.8 881.3,225C878.4,228.2 862.6,224 859.7,221Z" class="tt"/>
<path d="M855.6,250C855.8,245.5 856.1,237.1 858,232C859.9,226.9 863.7,220.9 867,219.2C870.3,217.5 874.8,218.5 878,222C881.2,225.5 884.3,234.5 886,240C887.7,245.5 889.3,251.7 888.3,255C887.3,258.3 883.4,258.9 880,260C876.6,261.1 871.8,261.7 868,261.5C864.2,261.3 859.1,260.9 857,259C854.9,257.1 855.4,254.5 855.6,250Z" class="tt"/>
<path d="M896.7,225C895.2,222.6 895.5,213.6 895.3,210C895.1,206.4 894.7,204 895.3,201C895.9,198 897.4,193.4 899,190C900.6,186.6 904.4,179.7 905.7,178.4C907,177.1 907.5,178.3 907.5,181.5C907.5,184.7 906.4,193.3 906,200C905.6,206.7 906.4,222.2 905,226C903.6,229.8 898.2,227.4 896.7,225Z" class="tt"/>
<path d="M892.5,245C892.8,241.2 892.2,233.5 893.5,230C894.8,226.5 897.8,224.6 900,224C902.2,223.4 905.4,223.8 907,226.5C908.6,229.2 909.6,235.1 909.9,240C910.2,244.9 910.5,252.7 909,256C907.5,259.3 903.7,259.2 901,260C898.3,260.8 894.5,262 893,260.8C891.5,259.6 892.1,255.6 892,253C891.9,250.4 892.2,248.8 892.5,245Z" class="tt"/>
<path d="M922.4,221C920.1,216.9 922.3,201.8 922.5,195C922.7,188.2 923,180.1 923.8,176C924.5,171.9 926.7,169.5 927.5,168C928.3,166.5 928.6,166.1 929.4,166.1C930.2,166.1 932.2,166.7 933,168C933.8,169.3 934.5,169.7 935,174.5C935.5,179.3 935.6,192.9 936,200C936.4,207.1 939.7,218.8 937.7,222C935.7,225.2 924.7,225.1 922.4,221Z" class="tt"/>
<path d="M914,248C914,243.9 915.8,236.6 918,232C920.2,227.4 924.2,222.4 927,220.7C929.8,219 932.8,219.6 935,222C937.2,224.4 938.9,230.3 940,235C941.1,239.7 942.7,246.3 941.9,250C941.1,253.7 937.3,255.1 935,257C932.7,258.9 930.8,261.6 928,261.5C925.2,261.4 920.3,258.8 918,256.5C915.7,254.2 914,252.1 914,248Z" class="tt"/>
<path d="M952.4,229C950.4,226.2 953.3,216.9 954,210C954.7,203.1 956.1,187.6 957.2,183C958.3,178.4 960.5,179.5 961.4,179.4C962.3,179.3 962.5,182.4 963,182.5C963.5,182.6 964.4,180.6 965,180C965.6,179.4 966.6,178.5 967,178.7C967.4,178.8 968,179.8 967.8,181C967.6,182.2 965.9,183.4 965.6,187C965.3,190.6 965.8,198.7 966,205C966.2,211.3 969,225.4 967,229C965,232.6 954.4,231.8 952.4,229Z" class="tt"/>
<path d="M944.7,245C944.5,241.1 946,235.8 948,233C950,230.2 953.8,229 957,228.3C960.2,227.6 964.5,227.4 967,229C969.5,230.6 971.1,234.5 972,238C972.9,241.5 973.8,246.7 972.6,250C971.4,253.3 967.4,256 965,258C962.6,260 960.7,262.2 958,262C955.3,261.8 951.2,259.3 949,256.5C946.8,253.7 944.9,248.9 944.7,245Z" class="tt"/>
<path d="M982.3,229C980.5,226.2 983.2,215.9 984,210C984.8,204.1 986.5,194.2 987.9,189.8C989.3,185.4 992.3,182 993.5,180.8C994.7,179.6 995.5,181.3 996,182C996.5,182.7 996.9,182.2 996.9,185.6C996.9,189 996.1,198.5 996,205C995.9,211.5 998.3,225.4 996.2,229C994.1,232.6 984.1,231.8 982.3,229Z" class="tt"/>
<path d="M976.7,245C977,241.8 977.1,235.8 979,233C980.9,230.2 985,229 988,228.3C991,227.6 994.8,227.1 997,229C999.2,230.9 1000.6,236.2 1001.1,240C1001.6,243.8 1001.4,248.8 1000,252C998.6,255.2 995.8,258.4 993,259.5C990.2,260.6 985.7,259.8 983,258.5C980.3,257.2 978,254.2 977,252C976,249.8 976.4,248.2 976.7,245Z" class="tt"/>
<path d="M1011.1,234C1007.1,230.8 1009.5,219.9 1009,215C1008.5,210.1 1007.6,204.3 1007.7,201C1007.8,197.7 1008.7,194.6 1009.5,193C1010.3,191.4 1012.2,190.5 1013.2,190.5C1014.2,190.5 1015.9,191.6 1016.5,193C1017.1,194.4 1017.1,197.4 1017.5,200C1017.9,202.6 1018.4,207.1 1019,210C1019.6,212.9 1020.8,219.5 1021.5,219.5C1022.2,219.5 1022.9,213.2 1023.5,210C1024.1,206.8 1024.9,200.7 1025.5,198C1026.1,195.3 1026.8,193 1027.5,192C1028.2,191 1029.8,191.2 1030.5,191.5C1031.2,191.8 1031.4,194.2 1032,194C1032.6,193.8 1033.9,190.7 1034.8,190.5C1035.7,190.3 1037.3,191.4 1038,193C1038.7,194.6 1039.9,197.7 1039.7,201C1039.5,204.3 1037.6,209.8 1037,215C1036.4,220.2 1039.4,233.2 1035.5,236C1031.6,238.8 1015.1,237.2 1011.1,234Z" class="tt"/>
<path d="M1005.6,248C1005.4,244.2 1006.6,239.1 1009,236.5C1011.4,233.9 1015.7,233 1020,232.4C1024.3,231.8 1031.3,231.7 1035,233C1038.7,234.3 1040.7,237.2 1042,240C1043.3,242.8 1043.6,246.8 1043.1,250C1042.6,253.2 1041,257 1039,259C1037,261 1033.2,262.4 1031,262.2C1028.8,262 1027.3,259.1 1026,258C1024.7,256.9 1024.3,255.2 1023,255.5C1021.7,255.8 1020.2,258.8 1018,259.5C1015.8,260.2 1012.1,261.4 1010,259.5C1007.9,257.6 1005.8,251.8 1005.6,248Z" class="tt"/>
<path d="M1017.8,190C1017.9,191.2 1018.4,195.8 1018.5,197" class="ti"/>
<path d="M1023.5,190C1023.5,191 1023.8,195 1023.8,196" class="ti"/>
<path d="M1055,237.5C1051.8,235.2 1056.2,226.1 1057,222C1057.8,217.9 1058.9,213.2 1060,210C1061.1,206.8 1063,203.2 1064.5,201C1066,198.8 1068.2,196.7 1070,195.5C1071.8,194.3 1075.2,193.2 1076.5,193.3C1077.8,193.4 1078.7,194.8 1078.5,196C1078.3,197.2 1076.1,199.3 1075,201C1073.9,202.7 1072,204.8 1071,207C1070,209.2 1069.1,212.9 1068.5,216C1067.9,219.1 1066.4,226.8 1066.8,227.4C1067.2,228 1069.6,222.6 1071,220C1072.4,217.4 1074.7,212.8 1076,210C1077.3,207.2 1079,203.2 1080,201C1081,198.8 1082.2,196.6 1083,195.5C1083.8,194.4 1084.8,193.5 1085.6,194C1086.3,194.5 1087.8,196.6 1088,199C1088.2,201.4 1087.8,206.1 1087,210C1086.2,213.9 1084.3,220.9 1083,225C1081.7,229.1 1082.8,235.6 1078.6,237.5C1074.4,239.4 1058.2,239.8 1055,237.5Z" class="tt"/>
<path d="M1046.6,250C1046.8,247 1047.8,242.4 1050,240C1052.2,237.6 1055.8,236.5 1060,235.8C1064.2,235.1 1071.2,235.3 1075,236C1078.8,236.7 1081.2,237.7 1083,240C1084.8,242.3 1085.9,246.8 1085.6,250C1085.3,253.2 1082.9,257.1 1081,259C1079.1,260.9 1075.9,261.8 1074,261.5C1072.1,261.2 1070.5,259.1 1069.5,257.5C1068.5,255.9 1069,251.9 1068.2,252C1067.5,252.1 1066.7,256.4 1065,258C1063.3,259.6 1060.7,261.5 1058,261.5C1055.3,261.5 1050.9,259.9 1049,258C1047.1,256.1 1046.4,253 1046.6,250Z" class="tt"/>
<path d="M1096.7,239C1094.4,236.9 1098.8,229.3 1100,225C1101.2,220.7 1103.7,213.6 1105,210C1106.3,206.4 1108.1,202.6 1109,201C1109.9,199.4 1110.7,199.5 1111.3,199.5C1111.9,199.5 1112.6,199.4 1113,201C1113.4,202.6 1113.7,209.4 1114,210C1114.3,210.6 1114.5,205.8 1115,205C1115.5,204.2 1116.9,203.5 1117.6,204.4C1118.3,205.3 1119.6,207.6 1119.7,210.7C1119.8,213.8 1118.6,220.8 1118,225C1117.4,229.2 1118.7,236.9 1115.5,239C1112.3,241.1 1099,241.1 1096.7,239Z" class="tt"/>
<path d="M1089.8,252C1090.3,249.3 1091,244.6 1093,242C1095,239.4 1098.7,237.3 1102,236.5C1105.3,235.7 1110.2,235.8 1113,237C1115.8,238.2 1117.9,241.2 1119,244C1120.1,246.8 1120.4,251.3 1119.7,254C1119,256.7 1116.8,259 1115,260C1113.2,261 1110.5,260.3 1109,260C1107.5,259.7 1107.3,257.8 1105.8,258C1104.3,258.2 1102.1,260.3 1100,261C1097.9,261.7 1094.7,262.9 1093,262.4C1091.3,261.9 1090.5,259.7 1090,258C1089.5,256.3 1089.3,254.7 1089.8,252Z" class="tt"/>
<rect x="496.6" y="270.2" width="631.8" height="190.2" fill="#f0f1fd"/>
<rect x="496.6" y="244.7" width="75.9" height="25.5" fill="#fff" stroke="#222" stroke-width="1.3"/>
<text x="534.5" y="260.1" class="dh">Date</text>
<line x1="496.6" y1="294.5" x2="1128.4" y2="294.5" stroke="#8c8c8c" stroke-width="1"/>
<line x1="496.6" y1="317.5" x2="1128.4" y2="317.5" stroke="#222" stroke-width="1.2"/>
<line x1="496.6" y1="341.6" x2="1128.4" y2="341.6" stroke="#222" stroke-width="1.2"/>
<line x1="496.6" y1="365.6" x2="1128.4" y2="365.6" stroke="#222" stroke-width="1.2"/>
<line x1="496.6" y1="389.4" x2="1128.4" y2="389.4" stroke="#222" stroke-width="1.2"/>
<line x1="496.6" y1="413.2" x2="1128.4" y2="413.2" stroke="#8c8c8c" stroke-width="1"/>
<line x1="496.6" y1="436.8" x2="1128.4" y2="436.8" stroke="#222" stroke-width="1.2"/>
<line x1="572.5" y1="270.2" x2="572.5" y2="460.4" stroke="#222" stroke-width="1.2"/>
<line x1="621.6" y1="270.2" x2="621.6" y2="460.4" stroke="#222" stroke-width="1.2"/>
<line x1="660.5" y1="270.2" x2="660.5" y2="460.4" stroke="#222" stroke-width="1.2"/>
<line x1="706.6" y1="270.2" x2="706.6" y2="460.4" stroke="#222" stroke-width="1.2"/>
<line x1="734.5" y1="270.2" x2="734.5" y2="460.4" stroke="#222" stroke-width="1.2"/>
<line x1="762.6" y1="270.2" x2="762.6" y2="460.4" stroke="#222" stroke-width="1.2"/>
<line x1="794.6" y1="270.2" x2="794.6" y2="460.4" stroke="#222" stroke-width="1.2"/>
<line x1="818.3" y1="270.2" x2="818.3" y2="460.4" stroke="#222" stroke-width="1.2"/>
<line x1="855" y1="270.2" x2="855" y2="460.4" stroke="#222" stroke-width="1.2"/>
<line x1="888.5" y1="270.2" x2="888.5" y2="460.4" stroke="#222" stroke-width="1.2"/>
<line x1="912.6" y1="270.2" x2="912.6" y2="460.4" stroke="#222" stroke-width="1.2"/>
<line x1="943.2" y1="270.2" x2="943.2" y2="460.4" stroke="#222" stroke-width="1.2"/>
<line x1="973.7" y1="270.2" x2="973.7" y2="460.4" stroke="#222" stroke-width="1.2"/>
<line x1="1003.6" y1="270.2" x2="1003.6" y2="460.4" stroke="#222" stroke-width="1.2"/>
<line x1="1046.8" y1="270.2" x2="1046.8" y2="460.4" stroke="#222" stroke-width="1.2"/>
<line x1="1087.8" y1="270.2" x2="1087.8" y2="460.4" stroke="#222" stroke-width="1.2"/>
<line x1="416.5" y1="317.5" x2="496.6" y2="317.5" stroke="#222" stroke-width="1.3"/>
<line x1="416.5" y1="413.2" x2="496.6" y2="413.2" stroke="#222" stroke-width="1.3"/>
<line x1="416.5" y1="270.2" x2="496.6" y2="270.2" stroke="#222" stroke-width="1.3"/>
<line x1="416.5" y1="460.4" x2="496.6" y2="460.4" stroke="#222" stroke-width="1.3"/>
<line x1="416.5" y1="270.2" x2="416.5" y2="460.4" stroke="#222" stroke-width="1.3"/>
<line x1="496.6" y1="270.2" x2="496.6" y2="460.4" stroke="#222" stroke-width="1.3"/>
<line x1="496.6" y1="270.2" x2="1128.4" y2="270.2" stroke="#555" stroke-width="1.6"/>
<line x1="496.6" y1="460.4" x2="1128.4" y2="460.4" stroke="#444" stroke-width="1.3"/>
<line x1="1128.4" y1="270.2" x2="1128.4" y2="460.4" stroke="#333" stroke-width="1.3"/>
<text x="456.6" y="298" class="lb">Recession</text>
<text x="456.6" y="360.6" class="lb">Pocket</text>
<text x="456.6" y="377.8" class="lb">depth</text>
<text x="456.6" y="440.3" class="lb">Mobility</text>
<text x="534.5" y="286.2" class="cv">09/19/24</text>
<text x="683.5" y="286.2" class="cv">2</text>
<text x="778.6" y="286.2" class="cv">3</text>
<text x="534.5" y="333.4" class="cv">09/19/24</text>
<text x="683.5" y="333.4" class="cv">2mm</text>
<text x="778.6" y="333.4" class="cv">0</text>
<text x="534.5" y="357.4" class="cv">09/19/24</text>
<text x="417.1" y="524.5" class="sec">Palatal</text>
<line x1="628.7" y1="521.5" x2="1127.9" y2="521.5" stroke="#111" stroke-width="1.15"/>
<line x1="578.3" y1="529.5" x2="1127.9" y2="529.5" stroke="#111" stroke-width="1.15"/>
<line x1="578.3" y1="537.5" x2="1127.9" y2="537.5" stroke="#111" stroke-width="1.15"/>
<line x1="578.3" y1="545.5" x2="1127.9" y2="545.5" stroke="#111" stroke-width="1.15"/>
<line x1="578.3" y1="552.5" x2="1127.9" y2="552.5" stroke="#111" stroke-width="1.15"/>
<line x1="578.3" y1="560.5" x2="1127.9" y2="560.5" stroke="#111" stroke-width="1.15"/>
<line x1="578.3" y1="568.5" x2="1127.9" y2="568.5" stroke="#111" stroke-width="1.15"/>
<line x1="578.3" y1="575.5" x2="1127.9" y2="575.5" stroke="#111" stroke-width="1.15"/>
<line x1="578.3" y1="583.5" x2="1127.9" y2="583.5" stroke="#111" stroke-width="1.15"/>
<text x="576.5" y="523.4" class="mm">2mm</text>
<text x="560.5" y="554" class="rl">R</text>
<text x="1133" y="554" class="rl">L</text>
<path d="M588.3,583C584.5,581 586.6,574 586,570C585.4,566 584.3,559.1 584.3,556C584.3,552.9 585.3,550.8 586,549.5C586.7,548.2 588,547.5 589,547.4C590,547.2 591.8,548.2 593,548.5C594.2,548.8 595.4,549 597,549.7C598.6,550.4 602,551.3 604,553C606,554.7 609.2,558.1 610.3,561C611.3,563.9 610.9,568.7 611,572C611.1,575.3 614.4,581.4 611,583C607.6,584.6 592,585 588.3,583Z" class="tt"/>
<path d="M588.3,582.3C592.6,581 606.7,581 611,582.3C615.3,583.6 613.1,587.3 614,590C614.9,592.7 616.6,596.1 616.3,598.3C616,600.5 614.7,601.2 612,603C609.3,604.8 603,608.5 600,609C597,609.5 595.5,607.1 594,606C592.5,604.9 592,602.9 591,602.5C590,602.1 589.4,603.2 588,603.5C586.6,603.8 583.5,604.9 582.5,604C581.5,603.1 581.6,600.3 582,598C582.4,595.7 584,592.6 585,590C586,587.4 584,583.6 588.3,582.3Z" class="tt"/>
<path d="M595,549.5C596.3,551.8 600.3,557.5 603,563C605.7,568.5 609.7,579.2 611,582.5" class="ti"/>
<path d="M630.3,582C627.2,579.5 629.5,569.8 629,565C628.5,560.2 627.2,553.5 627,550C626.8,546.5 627.1,543.5 627.5,542C627.9,540.5 628.9,539.9 629.5,539.7C630.1,539.6 631,541.3 631.5,541C632,540.7 632.5,538.6 633,538C633.5,537.4 634.3,536.9 635,537C635.7,537.1 636.6,537.3 637.5,538.5C638.4,539.7 640.2,544 641,545C641.8,546 642.2,544.5 643,545C643.8,545.5 645.2,546.4 646,548C646.8,549.6 647.5,552.7 648,556C648.5,559.3 648.7,566.2 649,570C649.3,573.8 652.5,579.7 649.7,581.5C646.9,583.3 633.4,584.5 630.3,582Z" class="tt"/>
<path d="M630.3,581.7C634.4,580.2 645.8,579.6 649.7,581C653.7,582.4 652.5,587.2 654,590C655.5,592.8 658.7,595.7 659,598C659.3,600.3 657.8,602.4 656,604C654.2,605.6 650.5,607.4 648,607.7C645.5,608 642.8,607.1 641,606C639.2,604.9 638.2,601.2 637,601C635.8,600.8 635.2,604.1 634,605C632.8,605.9 631.7,606.8 630,606.5C628.3,606.2 625.6,604.4 624,603C622.4,601.6 620.1,600.2 620.3,598C620.5,595.8 623.3,592.7 625,590C626.7,587.3 626.2,583.2 630.3,581.7Z" class="tt"/>
<path d="M631.5,541C631.6,542.8 631.9,550.2 632,552" class="ti"/>
<path d="M641,545C641.7,547.2 644.3,555.8 645,558" class="ti"/>
<path d="M671,582C667.1,579.5 670.4,569.8 670,565C669.6,560.2 668.5,554 668.5,550C668.5,546 669.2,540.2 669.7,538.3C670.2,536.3 671.4,536.7 672,537C672.6,537.3 673.2,540.3 674,540C674.8,539.7 675.8,536.5 677,535C678.2,533.5 680.5,530.9 681.7,530.3C682.9,529.7 684.1,530 685,531C685.9,532 687.2,536.2 688,537C688.8,537.8 689.5,536.4 690,536C690.5,535.6 690.4,534.1 691,534.3C691.6,534.4 693.1,535.4 694,537C694.9,538.6 696.5,541.5 697,545C697.5,548.5 697.1,554.5 697,560C696.9,565.5 700.2,578.7 696.3,582C692.4,585.3 674.9,584.5 671,582Z" class="tt"/>
<path d="M671,581C676.2,579.6 691.5,580.2 696.3,581.7C701.1,583.2 699,587.3 700,590C701,592.7 702.6,595.5 702.3,598C702,600.5 700,603.4 698,605C696,606.6 692.7,607.5 690,607.7C687.3,607.9 684.2,606.8 682,606C679.8,605.2 678.7,602.9 677,603C675.3,603.1 673.8,606.2 672,606.5C670.2,606.8 667.7,606.4 666,605C664.3,603.6 661.9,600.5 661.7,598C661.5,595.5 663.5,592.8 665,590C666.5,587.2 665.8,582.4 671,581Z" class="tt"/>
<path d="M674,540C674.5,544.2 676.5,560.8 677,565" class="ti"/>
<path d="M690,536C689.8,540.8 689.2,560.2 689,565" class="ti"/>
<path d="M688,598C689.2,597.9 693.8,597.6 695,597.5" class="ti"/>
<path d="M714.6,577C712.4,573 713.3,557.4 713,550C712.7,542.6 712.2,531.8 712.5,528C712.8,524.2 714.5,525.1 715.3,524.8C716.1,524.5 717.2,525.2 718,526C718.8,526.8 719.9,526.4 720.9,530C721.9,533.6 724,543 725,550C726,557 729.5,573 727.9,577C726.3,581 716.8,581 714.6,577Z" class="tt"/>
<path d="M705.6,595C705.4,591.2 707.3,585.3 709,582C710.7,578.7 713.3,576.4 716,575.4C718.7,574.4 722.7,574.4 725,576C727.3,577.6 729.1,581.5 730,585C730.9,588.5 731.4,593.7 730.6,597C729.8,600.3 727.1,602.6 725,605C722.9,607.4 720.5,611.4 718,611.4C715.5,611.4 712.1,607.7 710,605C707.9,602.3 705.8,598.8 705.6,595Z" class="tt"/>
<path d="M710.5,599C711.8,600 715.2,605.2 718,605C720.8,604.8 725.5,599.2 727,598" class="ti"/>
<path d="M743.2,575C740.9,571 742.2,557 742,550C741.8,543 741.5,531.7 741.8,528C742.1,524.3 743.1,525.2 743.9,525.1C744.7,525 745.6,524.7 747,527C748.4,529.3 751.7,536.2 752.9,540.4C754.1,544.6 754.4,549.5 755,555C755.6,560.5 758.9,574 757.1,577C755.3,580 745.5,579 743.2,575Z" class="tt"/>
<path d="M734.8,592C734.8,588.5 736.1,585 738,582C739.9,579 743.2,575 746,574C748.8,573 752.7,573.7 755,576C757.3,578.3 759.2,584 759.9,588C760.6,592 760.3,596.7 759,600C757.7,603.3 754.3,606.2 752,608C749.7,609.8 747.3,611.5 745,610.7C742.7,609.9 739.7,606.1 738,603C736.3,599.9 734.8,595.5 734.8,592Z" class="tt"/>
<path d="M739,597C740.2,598.2 743.5,603.5 746,604C748.5,604.5 752.7,600.7 754,600" class="ti"/>
<path d="M772.4,570C770,565 772,547.4 772,540C772,532.6 771.7,525.4 772.4,521C773.1,516.6 775.5,511.6 776.6,510.4C777.7,509.2 779.1,511.6 780,513C780.9,514.4 782.1,514.7 782.9,519.5C783.6,524.3 784.3,537 785,545C785.7,553 789.6,569.2 787.7,573C785.8,576.8 774.8,575 772.4,570Z" class="tt"/>
<path d="M766.2,590C766.2,584.8 767.9,578.6 770,575C772.1,571.4 776,568.9 779,568.4C782,567.9 785.8,569.2 788,572C790.2,574.8 791.2,580.7 792,585C792.8,589.3 793.3,594.5 792.6,598C791.9,601.5 790.1,603.9 788,606C785.9,608.1 783,610.7 780,610.7C777,610.7 772.3,609.5 770,606C767.7,602.5 766.2,595.2 766.2,590Z" class="tt"/>
<path d="M771.5,592C771.9,591.1 773.1,587.1 774,586.5C774.9,585.9 776,588.8 777,588.5C778,588.2 778.8,584.6 780,584.5C781.2,584.4 782.8,586.9 784,588C785.2,589.1 786.5,590.5 787,591" class="ti"/>
<path d="M771.5,599C772.2,599.7 774.1,602.3 776,603C777.9,603.7 781,603.8 783,603C785,602.2 787.2,598.8 788,598" class="ti"/>
<path d="M801.7,573C800,568.4 801.5,551.8 801.5,545C801.5,538.2 801.2,531.1 801.7,528C802.2,524.9 803.7,524.7 804.5,524.4C805.3,524.1 806.2,524.9 807,526C807.8,527.1 809.3,527.6 810,532C810.7,536.4 811.1,548.4 811.5,555C811.9,561.6 814.3,573.3 812.8,576C811.3,578.7 803.4,577.6 801.7,573Z" class="tt"/>
<path d="M796.8,593C797,588.8 797.5,583.5 799,580C800.5,576.5 803.8,572.8 806,572C808.2,571.2 810.5,572.3 812,575C813.5,577.7 814.4,583.5 815,588C815.6,592.5 816.4,598.7 815.6,602C814.8,605.3 811.9,606.8 810,608C808.1,609.2 806,609.8 804,609.3C802,608.8 799.2,607.7 798,605C796.8,602.3 796.6,597.2 796.8,593Z" class="tt"/>
<path d="M802,596C801.9,594.7 800.8,590.2 801.5,588C802.2,585.8 804.6,583 806,583C807.4,583 809.2,585.8 810,588C810.8,590.2 810.8,594.7 811,596" class="ti"/>
<path d="M801,601C801.8,601.6 804.3,604.3 806,604.5C807.7,604.7 810.2,602.4 811,602" class="ti"/>
<path d="M826,573C823.5,569.1 827.2,556.8 828,550C828.8,543.2 830.6,532.2 831.6,528C832.6,523.8 833.6,522.9 834.4,522.3C835.2,521.7 836.3,522.8 837,524C837.7,525.2 838.5,526.7 839.3,530.6C840,534.5 841.2,543.2 842,550C842.8,556.8 847.2,572.5 844.8,576C842.4,579.5 828.5,576.9 826,573Z" class="tt"/>
<path d="M819.8,595C819.5,590.7 819.8,585.8 822,582C824.2,578.2 829.5,573.2 833,572C836.5,570.8 840.3,572.3 843,575C845.7,577.7 847.6,583.3 849,588C850.4,592.7 851.8,599.3 851.1,603C850.4,606.7 847.7,608.6 845,610C842.3,611.4 838.5,611.7 835,611.4C831.5,611.1 826.5,610.7 824,608C821.5,605.3 820.1,599.3 819.8,595Z" class="tt"/>
<path d="M825,600C825.2,598.7 824.7,594.3 826,592C827.3,589.7 830.5,586.6 833,586C835.5,585.4 838.8,586.8 841,588.5C843.2,590.2 845.2,594.8 846,596" class="ti"/>
<path d="M826,604C827.7,604.5 832.7,607.2 836,607C839.3,606.8 844.3,603.7 846,603" class="ti"/>
<path d="M859.7,574.5C857.2,570.6 861.5,557 863,550C864.5,543 867.8,532.4 869.5,528C871.2,523.6 873.3,520.9 874.4,520.9C875.5,520.9 876.3,523.5 876.8,527.9C877.3,532.3 877.5,542.8 878,550C878.5,557.2 882.7,572.3 880,576C877.3,579.7 862.2,578.4 859.7,574.5Z" class="tt"/>
<path d="M854.9,595C854.9,590.7 855.6,585.7 858,582C860.4,578.3 865.3,573.6 869,572.6C872.7,571.6 877.2,573.1 880,576C882.8,578.9 885,585.5 886,590C887,594.5 887.2,599.8 886.2,603C885.2,606.2 883,607.5 880,609C877,610.5 871.7,612.3 868,612.1C864.3,611.9 860.2,610.9 858,608C855.8,605.1 854.9,599.3 854.9,595Z" class="tt"/>
<path d="M861,603C861.2,601.2 860.5,594.8 862,592C863.5,589.2 867.3,586.7 870,586.5C872.7,586.3 876.7,590.2 878,591" class="ti"/>
<path d="M861,604.5C862.2,604.9 864.8,607.4 868,607C871.2,606.6 878,602.8 880,602" class="ti"/>
<path d="M895.3,577C894.1,573.4 896.1,562.2 897,555C897.9,547.8 900,533.4 901.5,529.2C903,525 906,526.5 907.1,526.7C908.2,526.9 908.7,527.1 908.7,530.6C908.7,534.1 907.6,542.7 907,550C906.4,557.3 906.8,575 905,579C903.2,583 896.5,580.6 895.3,577Z" class="tt"/>
<path d="M889.7,595C890,591.5 890.5,587.2 892,584C893.5,580.8 896.7,577 899,576C901.3,575 904,575.3 906,578C908,580.7 910,587.8 911,592C912,596.2 913,600.3 912,603C911,605.7 907.8,606.8 905,608C902.2,609.2 897.5,610.5 895,610C892.5,609.5 890.9,607.5 890,605C889.1,602.5 889.4,598.5 889.7,595Z" class="tt"/>
<path d="M893.5,603C893.8,600.7 893.9,592.2 895,589C896.1,585.8 898.3,583.8 900,584C901.7,584.2 904.2,589 905,590" class="ti"/>
<path d="M894,604C895,604.1 897.8,605 900,604.5C902.2,604 905.8,601.6 907,601" class="ti"/>
<path d="M923.1,570.5C921.6,565.7 924.3,547.6 925,540C925.7,532.4 926.5,523.7 928,519.5C929.5,515.3 933.7,512.2 935,511.8C936.3,511.4 936.5,512.5 936.6,516.7C936.8,520.9 936.2,531.7 936,540C935.8,548.3 936.9,567.4 935,572C933.1,576.6 924.6,575.3 923.1,570.5Z" class="tt"/>
<path d="M915.5,592C915.7,587.3 916.9,581.7 919,578C921.1,574.3 925,570.8 928,569.8C931,568.8 934.7,569.5 937,572C939.3,574.5 941,580.3 942,585C943,589.7 944.1,596.2 943.3,600C942.5,603.8 939.5,606.1 937,608C934.5,609.9 931.2,611.7 928,611.4C924.8,611.1 920.1,609.2 918,606C915.9,602.8 915.3,596.7 915.5,592Z" class="tt"/>
<path d="M922,590C922.7,589.2 924.8,585.8 926,585.5C927.2,585.2 928,588.2 929,588C930,587.8 930.8,584.4 932,584.5C933.2,584.6 935.3,587.8 936,588.5" class="ti"/>
<path d="M922,600C923,600.8 925.8,604.7 928,605C930.2,605.3 933.8,602.5 935,602" class="ti"/>
<path d="M955.2,579C953.7,575.2 955.5,561.6 956,555C956.5,548.4 958,539 958.6,534.8C959.2,530.6 959.7,528.8 960,527C960.3,525.2 960.2,523.5 960.7,523C961.2,522.5 962.3,523.2 963,524C963.7,524.8 964.8,526.8 965.6,528C966.4,529.2 968.4,528 968.6,532C968.8,536 967.3,547.8 967,555C966.7,562.2 968.1,576.4 966.3,580C964.5,583.6 956.7,582.8 955.2,579Z" class="tt"/>
<path d="M946.8,597C947,593.3 948.1,588.2 950,585C951.9,581.8 955.3,578.5 958,577.5C960.7,576.5 963.8,576.9 966,579C968.2,581.1 969.9,586.2 971,590C972.1,593.8 973.4,598.8 972.6,602C971.8,605.2 968.4,607.3 966,609C963.6,610.7 960.8,612.4 958,612.1C955.2,611.8 950.9,609.5 949,607C947.1,604.5 946.6,600.7 946.8,597Z" class="tt"/>
<path d="M951,600C952.2,601 955.2,605.5 958,606C960.8,606.5 966.3,603.5 968,603" class="ti"/>
<path d="M985.1,577.5C983.9,573.9 986.4,561.2 987,555C987.6,548.8 988.2,540.6 989.3,536.2C990.4,531.8 993.1,526.8 994.2,525.8C995.3,524.8 996.1,525.6 996.4,529.2C996.7,532.8 996.2,542.5 996,550C995.8,557.5 996.4,574.9 994.8,579C993.2,583.1 986.3,581.1 985.1,577.5Z" class="tt"/>
<path d="M976,597C976.2,593.7 977.2,588.6 979,585C980.8,581.4 984.2,576.7 987,575.4C989.8,574.1 993.8,574.6 996,577C998.2,579.4 999.4,585.7 1000,590C1000.6,594.3 1000.9,599.8 999.7,603C998.5,606.2 995.5,607.6 993,609C990.5,610.4 987.5,612.1 985,611.4C982.5,610.7 979.5,607.4 978,605C976.5,602.6 975.8,600.3 976,597Z" class="tt"/>
<path d="M980,601C981.2,601.8 984.3,605.8 987,606C989.7,606.2 994.5,602.7 996,602" class="ti"/>
<path d="M1011.1,580C1007.6,576.5 1010.5,565.1 1010.5,560C1010.5,554.9 1010.6,549 1011,546C1011.4,543 1012.4,541.2 1013,540C1013.6,538.8 1014.6,538.1 1015.3,538.3C1016,538.4 1017,539.5 1017.5,541C1018,542.5 1018.1,548.1 1018.5,548C1018.9,547.9 1019.2,542.1 1020,540C1020.8,537.9 1022.9,535 1024,534C1025.1,533 1026.2,533.1 1027.1,533.4C1028,533.7 1029.3,534.3 1030,536C1030.7,537.7 1031.5,542.5 1032,545C1032.5,547.5 1033,553 1033.5,553C1034,553 1034.4,547.4 1035,545C1035.6,542.6 1036.8,538.4 1037.5,537C1038.2,535.6 1039.1,535.2 1039.7,535.5C1040.3,535.8 1041.2,537.4 1041.5,539C1041.8,540.6 1042,543.3 1041.5,546C1041,548.7 1039,553.5 1038,557C1037,560.5 1035.1,565.7 1034.5,569.6C1033.9,573.5 1037.6,581.4 1034.1,583C1030.6,584.6 1014.6,583.5 1011.1,580Z" class="tt"/>
<path d="M1011.1,579.3C1014.3,578.5 1020.6,586.5 1024.4,587C1028.2,587.5 1031.5,581.6 1034.1,582.1C1036.7,582.6 1038.3,587 1040,590C1041.7,593 1044.2,597 1044.5,600C1044.8,603 1043.6,606.3 1042,608C1040.4,609.7 1037.2,610.3 1035,610C1032.8,609.7 1030.3,607.2 1029,606C1027.7,604.8 1027.8,602.7 1027,603C1026.2,603.3 1025.8,606.5 1024,608C1022.2,609.5 1018.7,611.7 1016,612C1013.3,612.3 1010.2,611.5 1008,610C1005.8,608.5 1003.5,606 1003,603C1002.5,600 1003.6,596 1005,592C1006.4,588 1007.9,580.1 1011.1,579.3Z" class="tt"/>
<path d="M1018.5,548C1018.3,550.8 1017.7,562.2 1017.5,565" class="ti"/>
<path d="M1033.5,553C1033.3,555 1032.7,563 1032.5,565" class="ti"/>
<path d="M1006.5,603.5C1007.1,603.9 1008.4,605.7 1010,606C1011.6,606.3 1015,605.6 1016,605.5" class="ti"/>
<path d="M1055,586C1051.5,583.9 1055.2,575.6 1055.5,572C1055.8,568.4 1056.4,564.5 1057,562C1057.6,559.5 1059,555.8 1059.8,555C1060.5,554.2 1061.5,555.8 1062,557C1062.5,558.2 1062.4,563.8 1063,563C1063.6,562.2 1064.8,555.1 1066,552C1067.2,548.9 1069.6,543.8 1071,542C1072.4,540.2 1074.2,539.9 1075.2,539.7C1076.2,539.6 1077.4,540.1 1078,541C1078.6,541.9 1078.6,545.5 1079,546C1079.4,546.5 1080,544.3 1080.5,544C1081,543.7 1081.6,543.3 1082.1,543.8C1082.6,544.2 1083.9,545.3 1084,547C1084.1,548.7 1083.8,552.3 1083,555C1082.2,557.7 1079.9,562 1079,565C1078.1,568 1077,571.9 1077,575C1077,578.1 1082.3,584.4 1079,586C1075.7,587.6 1058.5,588.1 1055,586Z" class="tt"/>
<path d="M1055,585C1059.7,584.2 1074.3,583.8 1079,585C1083.7,586.2 1081.9,589.5 1083,592C1084.1,594.5 1085.8,597.7 1085.6,600C1085.4,602.3 1083.8,604.8 1082,606C1080.2,607.2 1077,607.3 1075,607C1073,606.7 1071.5,604 1070,604C1068.5,604 1068,606.2 1066,607C1064,607.8 1060.7,608.8 1058,608.6C1055.3,608.4 1051.7,607.8 1050,606C1048.3,604.2 1047.8,600.7 1048,598C1048.2,595.3 1049.8,592.2 1051,590C1052.2,587.8 1050.3,585.8 1055,585Z" class="tt"/>
<path d="M1063,563C1062.8,565 1062.2,573 1062,575" class="ti"/>
<path d="M1079,546C1078.8,547.7 1078.2,554.3 1078,556" class="ti"/>
<path d="M1097,585C1094.6,582.8 1098.2,573.8 1099,570C1099.8,566.2 1101,562.4 1102,560C1103,557.6 1104.9,555 1105.8,554.3C1106.7,553.5 1107.1,555.5 1108,555C1108.9,554.5 1110.5,552 1112,551C1113.5,550 1117,548 1118.3,548C1119.6,548 1120.7,548.5 1121,551C1121.3,553.5 1120.8,561 1120,565C1119.2,569 1116.8,575 1116,578C1115.2,581 1117.8,584 1115,585C1112.2,586 1099.4,587.2 1097,585Z" class="tt"/>
<path d="M1097,584C1100.7,583 1111.3,582.7 1115,584C1118.7,585.3 1118,589.3 1119,592C1120,594.7 1121.3,597.7 1121.1,600C1120.9,602.3 1119.8,605.2 1118,606C1116.2,606.8 1112.2,604.7 1110,605C1107.8,605.3 1107.2,607.1 1105,608C1102.8,608.9 1099.2,611.1 1097,610.6C1094.8,610.1 1093.1,607.3 1092,605C1090.9,602.7 1090.3,599.5 1090.5,597C1090.7,594.5 1091.9,592.2 1093,590C1094.1,587.8 1093.3,585 1097,584Z" class="tt"/>
<path d="M1108,555C1107.2,557.5 1103.8,567.5 1103,570" class="ti"/>
<rect x="496.6" y="615" width="631.8" height="142.6" fill="#f0f1fd"/>
<rect x="496.6" y="589.7" width="75.9" height="25.3" fill="#fff" stroke="#222" stroke-width="1.3"/>
<text x="534.5" y="605.1" class="dh">Date</text>
<line x1="496.6" y1="639.4" x2="1128.4" y2="639.4" stroke="#555" stroke-width="1.1"/>
<line x1="496.6" y1="662.8" x2="1128.4" y2="662.8" stroke="#666" stroke-width="1.1"/>
<line x1="496.6" y1="686.5" x2="1128.4" y2="686.5" stroke="#222" stroke-width="1.2"/>
<line x1="496.6" y1="710.5" x2="1128.4" y2="710.5" stroke="#222" stroke-width="1.2"/>
<line x1="496.6" y1="734.9" x2="1128.4" y2="734.9" stroke="#222" stroke-width="1.2"/>
<line x1="572.5" y1="615" x2="572.5" y2="757.6" stroke="#222" stroke-width="1.2"/>
<line x1="621.6" y1="615" x2="621.6" y2="757.6" stroke="#222" stroke-width="1.8"/>
<line x1="660.5" y1="615" x2="660.5" y2="757.6" stroke="#222" stroke-width="1.2"/>
<line x1="706.6" y1="615" x2="706.6" y2="757.6" stroke="#222" stroke-width="1.2"/>
<line x1="734.5" y1="615" x2="734.5" y2="757.6" stroke="#222" stroke-width="1.2"/>
<line x1="762.6" y1="615" x2="762.6" y2="757.6" stroke="#222" stroke-width="1.2"/>
<line x1="794.6" y1="615" x2="794.6" y2="757.6" stroke="#222" stroke-width="1.2"/>
<line x1="818.3" y1="615" x2="818.3" y2="757.6" stroke="#222" stroke-width="1.2"/>
<line x1="855" y1="615" x2="855" y2="757.6" stroke="#222" stroke-width="1.2"/>
<line x1="888.5" y1="615" x2="888.5" y2="757.6" stroke="#222" stroke-width="1.2"/>
<line x1="912.6" y1="615" x2="912.6" y2="757.6" stroke="#222" stroke-width="1.2"/>
<line x1="943.2" y1="615" x2="943.2" y2="757.6" stroke="#222" stroke-width="1.2"/>
<line x1="973.7" y1="615" x2="973.7" y2="757.6" stroke="#222" stroke-width="1.2"/>
<line x1="1003.6" y1="615" x2="1003.6" y2="757.6" stroke="#222" stroke-width="1.2"/>
<line x1="1046.8" y1="615" x2="1046.8" y2="757.6" stroke="#222" stroke-width="1.2"/>
<line x1="1087.8" y1="615" x2="1087.8" y2="757.6" stroke="#222" stroke-width="1.2"/>
<line x1="416.5" y1="662.8" x2="496.6" y2="662.8" stroke="#222" stroke-width="1.3"/>
<line x1="416.5" y1="615" x2="496.6" y2="615" stroke="#222" stroke-width="1.3"/>
<line x1="416.5" y1="757.6" x2="496.6" y2="757.6" stroke="#222" stroke-width="1.3"/>
<line x1="416.5" y1="615" x2="416.5" y2="757.6" stroke="#222" stroke-width="1.3"/>
<line x1="496.6" y1="615" x2="496.6" y2="757.6" stroke="#222" stroke-width="1.3"/>
<line x1="496.6" y1="615" x2="1128.4" y2="615" stroke="#222" stroke-width="1.4"/>
<line x1="496.6" y1="757.6" x2="1128.4" y2="757.6" stroke="#777" stroke-width="1.2"/>
<line x1="1128.4" y1="615" x2="1128.4" y2="757.6" stroke="#333" stroke-width="1.3"/>
<text x="456.6" y="643.3" class="lb">Recession</text>
<text x="456.6" y="706.7" class="lb">Pocket</text>
<text x="456.6" y="723.8" class="lb">depth</text>
<text x="641" y="631" class="cv">3</text>
<text x="683.5" y="631" class="cv">3</text>
<text x="1025.2" y="631" class="cv">3</text>
<path d="M1027.4,801.9 L1027.4,791 C1027.4,785 1032.2,780.4 1038,780.4 C1043.8,780.4 1048.6,785 1048.6,791 C1048.6,797 1043.8,801.9 1038,801.9 Z" fill="#6d45ee"/>
<path d="M1043.5,788.3 C1043.5,783.7 1047,780 1051.5,780 L1054.5,780 C1057.3,780 1059.5,782.2 1059.5,785 L1059.5,796.5 L1051.5,796.5 C1047,796.5 1043.5,792.8 1043.5,788.3 Z" fill="#d6c9fb" opacity="0.82"/>
</svg>
<div class="url">https://www.carepatron.com/</div>
<div class="pw">Powered by</div>
<div class="cp"><b>care</b>patron</div>
</body></html>
